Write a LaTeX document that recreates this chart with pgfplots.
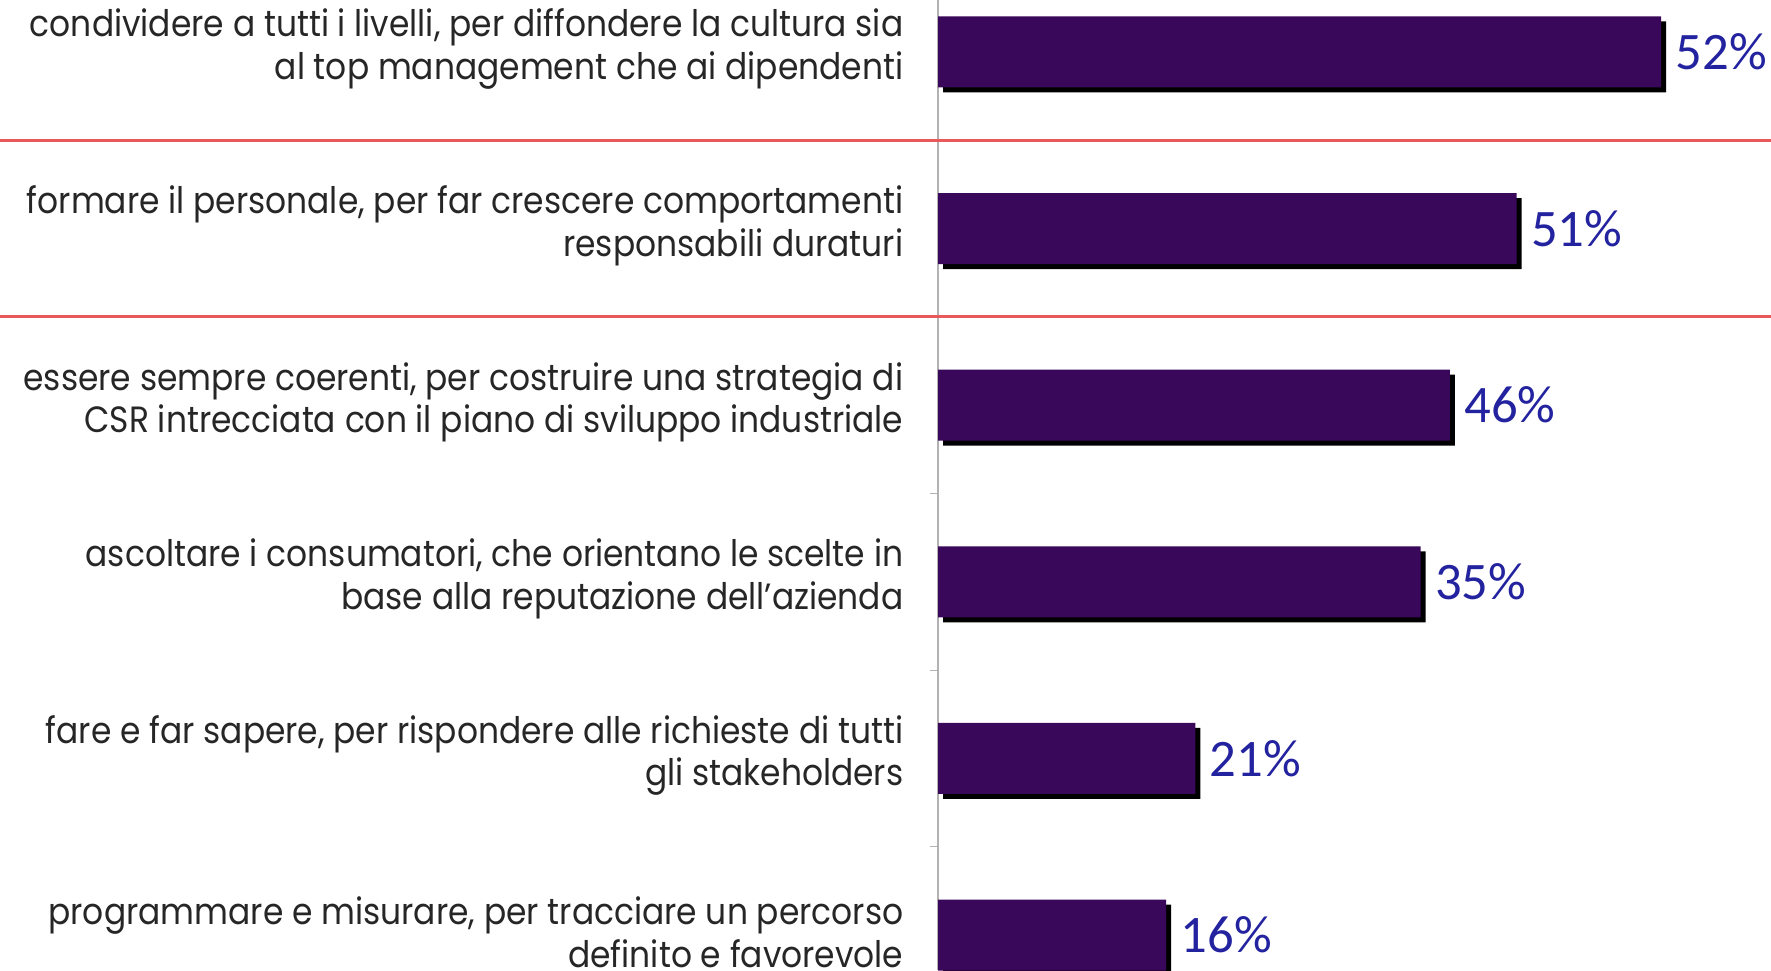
\documentclass[border=0pt]{standalone}
\usepackage{pgfplots}
\pgfplotsset{compat=1.18}
\usepackage{fontspec}
\setmainfont{Poppins}[FakeStretch=0.9]
\newfontfamily\numfont{Carlito}
\usetikzlibrary{shadows}
\definecolor{barpurple}{RGB}{58,8,90}
\definecolor{pctblue}{RGB}{35,35,160}
\definecolor{sepred}{RGB}{232,90,90}

\begin{document}
\begin{tikzpicture}
\begin{axis}[
  scale only axis, width=83.3mm, height=97mm,
  xmin=0, xmax=59.9, ymin=-0.198, ymax=5.294,
  xbar, bar width=7.1mm, bar shift=0pt,
  axis x line=none, axis y line*=left,
  y axis line style={draw=gray!60, line width=0.5pt},
  ytick={0,...,5},
  yticklabels={{programmare e misurare, per tracciare un percorso\\definito e favorevole},
    {fare e far sapere, per rispondere alle richieste di tutti\\gli stakeholders},
    {ascoltare i consumatori, che orientano le scelte in\\base alla reputazione dell’azienda},
    {essere sempre coerenti, per costruire una strategia di\\CSR intrecciata con il piano di sviluppo industriale},
    {formare il personale, per far crescere comportamenti\\responsabili duraturi},
    {condividere a tutti i livelli, per diffondere la cultura sia\\al top management che ai dipendenti}},
  major tick length=0pt,
  minor ytick={0.5,1.5,2.5,3.5,4.5}, minor tick length=0.8mm, tick align=outside,
  minor tick style={gray!60},
  yticklabel style={align=right, font=\fontsize{10.4}{12.1}\selectfont, anchor=east,
    inner sep=0pt, xshift=-3.4mm, yshift=0.3mm, text=black!85},
  nodes near coords, point meta=explicit symbolic,
  nodes near coords style={anchor=west, inner sep=0pt, xshift=1.4mm,
    font=\numfont\fontsize{15}{15}\selectfont, text=pctblue},
  clip=false
]
\addplot[fill=barpurple, draw=none,
  drop shadow={shadow xshift=0.5mm, shadow yshift=-0.5mm, opacity=1, fill=black}]
  coordinates {(16.4,0) [16\%] (18.5,1) [21\%] (34.7,2) [35\%]
               (36.8,3) [46\%] (41.6,4) [51\%] (52,5) [52\%]};
\draw[sepred, line width=0.3mm] ([xshift=-93.8mm]axis cs:0,4.5) -- (axis cs:59.9,4.5);
\draw[sepred, line width=0.3mm] ([xshift=-93.8mm]axis cs:0,3.5) -- (axis cs:59.9,3.5);
\coordinate (bl) at (rel axis cs:0,0);
\coordinate (tr) at (rel axis cs:1,1);
\end{axis}
\pgfresetboundingbox
\useasboundingbox ([xshift=-93.8mm]bl) rectangle (tr);
\end{tikzpicture}
\end{document}
